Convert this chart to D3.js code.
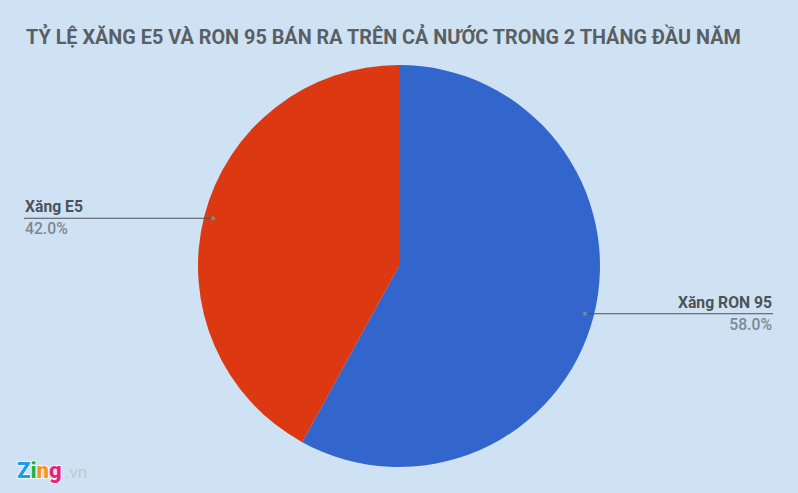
<!DOCTYPE html>
<html><head><meta charset="utf-8">
<script src="https://cdn.jsdelivr.net/npm/d3@7/dist/d3.min.js"></script>
<style>html,body{margin:0;padding:0;background:#cfe2f3;}svg{display:block;font-family:Roboto,"Noto Sans",sans-serif;}</style>
</head><body>
<script>
const title = "TỶ LỆ XĂNG E5 VÀ RON 95 BÁN RA TRÊN CẢ NƯỚC TRONG 2 THÁNG ĐẦU NĂM";
const categories = ["Xăng RON 95", "Xăng E5"];
const values = [58.0, 42.0];
const colors = ["#3366cc", "#dc3912"];

const W = 798, H = 493;
const svg = d3.select("body").append("svg").attr("width", W).attr("height", H);
svg.append("rect").attr("width", W).attr("height", H).attr("fill", "#cfe2f3");

const t = svg.append("text").attr("x", 26).attr("y", 44)
  .attr("font-size", 18.5).attr("font-weight", 700).attr("fill", "#5a5f64").text(title);
const tw = t.node().getComputedTextLength();
t.attr("font-size", Math.min(20, 18.5 * 715 / tw));

const cx = 399, cy = 266, R = 201;
const pie = d3.pie().sort(null).value(d => d)(values);
const arc = d3.arc().innerRadius(0).outerRadius(R);
const g = svg.append("g").attr("transform", `translate(${cx},${cy})`);
g.selectAll("path").data(pie).join("path").attr("d", arc).attr("fill", (d, i) => colors[i]);

// label size calibrated so "Xăng E5" is ~58px wide
const probe = svg.append("text").attr("font-size", 15).attr("font-weight", 700).text(categories[1]);
const lfs = Math.min(17, 15 * 58 / probe.node().getComputedTextLength());
probe.remove();

const anchorArc = d3.arc().innerRadius(R * 0.955).outerRadius(R * 0.955);
pie.forEach((d, i) => {
  const [ax, ay] = anchorArc.centroid(d);
  const px = cx + ax, py = cy + ay;
  const right = px > cx;
  const endX = right ? 773 : 24;
  svg.append("line").attr("x1", px).attr("y1", py).attr("x2", endX).attr("y2", py)
    .attr("stroke", "#4d5358").attr("stroke-width", 1);
  svg.append("circle").attr("cx", px).attr("cy", py).attr("r", 2).attr("fill", "#7f878e");
  const anchor = right ? "end" : "start";
  const tx = right ? 772 : 25;
  svg.append("text").attr("x", tx).attr("y", py - 6).attr("text-anchor", anchor)
    .attr("font-size", lfs).attr("font-weight", 700).attr("fill", "#4d5358").text(categories[i]);
  svg.append("text").attr("x", tx).attr("y", py + 16).attr("text-anchor", anchor)
    .attr("font-size", lfs).attr("font-weight", 500).attr("fill", "#7d8890").text(values[i].toFixed(1) + "%");
});

// Logo
const logo = svg.append("text").attr("x", 17).attr("y", 478).attr("font-size", 22)
  .attr("font-weight", 900).attr("font-family", "Roboto, sans-serif")
  .attr("stroke", "#ffffff").attr("stroke-width", 1.5).attr("paint-order", "stroke");
[["Z", "#1e9ce6"], ["i", "#1fb04b"], ["n", "#f7931e"], ["g", "#e8237b"]].forEach(([c, col]) =>
  logo.append("tspan").attr("fill", col).text(c));
svg.append("text").attr("x", 65).attr("y", 478).attr("font-size", 17)
  .attr("fill", "#c2c8cd").attr("font-family", "Roboto, sans-serif").text(".vn");
</script>
</body></html>
